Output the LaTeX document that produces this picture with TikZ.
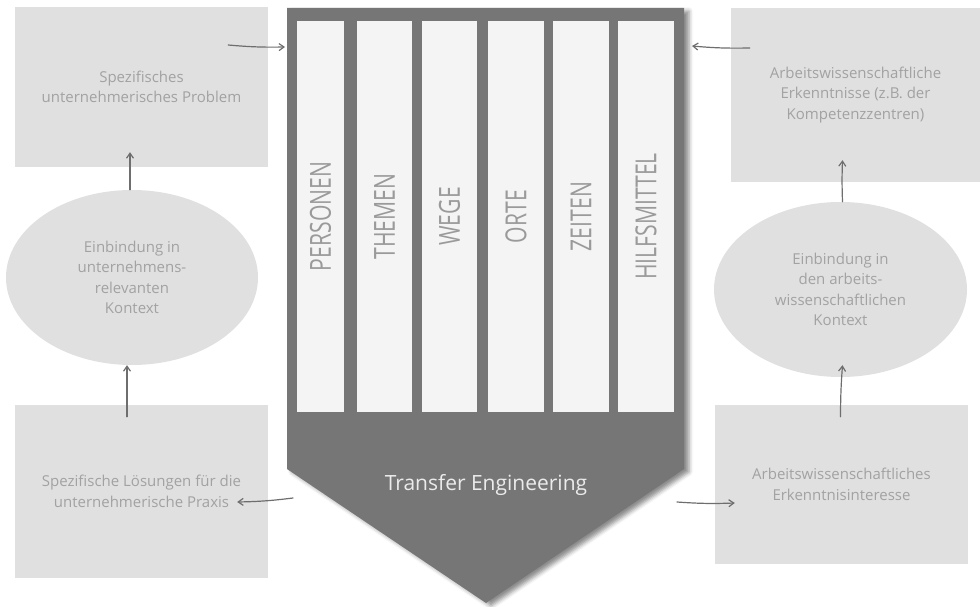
\documentclass[tikz,border=0pt]{standalone}
\usepackage{fontspec}
\setmainfont{Open Sans}
\usetikzlibrary{arrows.meta,shadows.blur,shapes.geometric,calc}
\definecolor{shapec}{HTML}{767676}
\definecolor{colc}{HTML}{F4F4F4}
\definecolor{boxfill}{HTML}{E0E0E0}
\definecolor{txt}{HTML}{A2A2A2}
\definecolor{coltxt}{HTML}{9A9A9A}
\definecolor{arrowc}{HTML}{6E6E6E}
\begin{document}
\begin{tikzpicture}[x=1pt,y=-1pt,
  box/.style={rectangle,fill=boxfill,draw=none,inner sep=0pt,text=txt,
    font=\fontsize{15}{20.5}\selectfont,align=center},
  oval/.style={ellipse,fill=boxfill,draw=none,inner sep=0pt,text=txt,
    font=\fontsize{15}{20.5}\selectfont,align=center},
  column/.style={rectangle,fill=colc,draw=none,inner sep=0pt,minimum height=391pt,
    text=coltxt,font=\fontsize{29}{29}\selectfont},
  arr/.style={draw=arrowc,line width=1.2pt,line cap=round,
    -{Straight Barb[length=5pt,width=7pt,line width=1.2pt]}}]
\useasboundingbox (0,0) rectangle (980,607);

% main shape
\path[fill=shapec,blur shadow={shadow xshift=5pt,shadow yshift=-3pt,shadow blur radius=4pt,shadow opacity=45}]
  (287,8) -- (684,8) -- (684,469) -- (486,603) -- (287,469) -- cycle;
\coordinate (teIn1) at (285,47);
\coordinate (teIn2) at (692,46);
\coordinate (teOut1) at (293,498);
\coordinate (teOut2) at (677,502);

% columns
\node[column,minimum width=47pt] (c1) at (320.5,216.5) {\rotatebox{90}{\scalebox{0.73}[1]{PERSONEN}}};
\node[column,minimum width=55pt] (c2) at (384.5,216.5) {\rotatebox{90}{\scalebox{0.73}[1]{THEMEN}}};
\node[column,minimum width=55pt] (c3) at (449.5,216.5) {\rotatebox{90}{\scalebox{0.73}[1]{WEGE}}};
\node[column,minimum width=56pt] (c4) at (516,216.5) {\rotatebox{90}{\scalebox{0.73}[1]{ORTE}}};
\node[column,minimum width=56pt] (c5) at (581,216.5) {\rotatebox{90}{\scalebox{0.73}[1]{ZEITEN}}};
\node[column,minimum width=56pt] (c6) at (646,216.5) {\rotatebox{90}{\scalebox{0.73}[1]{HILFSMITTEL}}};

\node[anchor=base,text=white!92!black,font=\fontsize{21}{21}\selectfont] (te) at (486,490) {Transfer Engineering};

% left side
\node[box,minimum width=253pt,minimum height=160pt] (p1) at (141.5,87)
  {Spezifisches\\unternehmerisches Problem};
\node[oval,minimum width=252pt,minimum height=175pt] (e1) at (132,277.5)
  {Einbindung in\\unternehmens-\\relevanten\\Kontext};
\node[box,minimum width=253pt,minimum height=173pt] (p2) at (141.5,491.5)
  {Spezifische Lösungen für die\\unternehmerische Praxis};

% right side
\node[box,minimum width=249pt,minimum height=174pt] (r1) at (855.5,95)
  {Arbeitswissenschaftliche\\Erkenntnisse (z.B. der\\Kompetenzzentren)};
\node[oval,minimum width=253pt,minimum height=175pt] (e2) at (840.5,289.5)
  {Einbindung in\\den arbeits-\\wissenschaftlichen\\Kontext};
\node[box,minimum width=253pt,minimum height=159pt] (r2) at (841.5,484.5)
  {Arbeitswissenschaftliches\\Erkenntnisinteresse};

% connectors
\draw[arr] ([xshift=-40pt,yshift=42pt]p1.east) to[bend right=3] (teIn1);
\draw[arr] ([xshift=19pt,yshift=47pt]r1.west) to[bend left=3] (teIn2);
\draw[arr] (teOut1) to[bend left=3] ([xshift=-31pt,yshift=-10.5pt]p2.east);
\draw[arr] (teOut2) to[bend right=3] ([xshift=20pt,yshift=-18.5pt]r2.west);

\draw[arr] ($(e1.north)+(-2,0)$) -- ($(e1.north |- p1.south)+(-2,-15)$);
\draw[arr] ($(e1.south |- p2.north)+(-5,12)$) -- ($(e1.south)+(-5,0)$);
\draw[arr] ($(e2.north)+(2,0)$) to[bend left=2] ($(e2.north |- r1.south)+(2,-22)$);
\draw[arr] ($(e2.south |- r2.north)+(0,12)$) to[bend left=2] ($(e2.south)+(2,-12)$);
\end{tikzpicture}
\end{document}
